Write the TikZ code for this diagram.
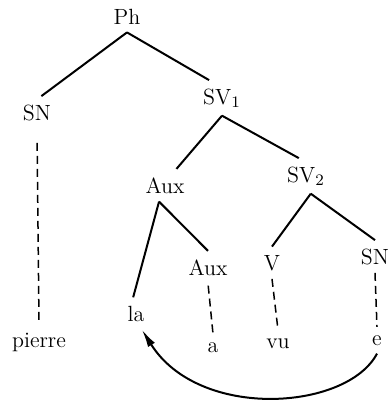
\documentclass[tikz,border=0pt]{standalone}
\usetikzlibrary{arrows.meta}
\begin{document}
\begin{tikzpicture}[x=0.5pt,y=-0.5pt,
  every node/.style={font=\fontsize{11}{13}\selectfont,inner sep=4pt,anchor=base},
  branch/.style={line width=1pt},
  trace/.style={line width=0.75pt,dash pattern=on 4pt off 2.5pt}]
 \useasboundingbox (0,0) rectangle (389,402);
 \foreach \n/\x/\y/\t in
  {
    ph/127/24/Ph, sn/37/120/SN, sv1/222/104/SV$_1$,
    aux/165/193/Aux, sv2/306/182/SV$_2$, la/136/321/la,
    aux2/208/275/Aux, v/272/270/V, sn2/375/264/SN,
    pierre/39/347/pierre, a/213/352/a, vu/278/348/vu, e/377/345/e
  }
  \node (\n) at (\x,\y) {\t};
 \foreach \a/\p/\b/\c in
  {
    ph/-90/sn/75, ph/-90/sv1/126, sv1/-90/aux/55, sv1/-90/sv2/112,
    aux/-110/la/100, aux/-110/aux2/90, sv2/-75/v/90, sv2/-75/sn2/90
  }
  \draw[branch] (\a.\p) -- (\b.\c);
 \foreach \a/\b/\s in {sn/pierre/7pt, aux2/a/1pt, v/vu/0pt, sn2/e/0pt}
  \draw[trace,shorten <=\s] (\a.south) -- (\b.north);
 \draw[branch,-{Latex[length=9pt,width=4pt]}]
  (e.south) .. controls +(-30,57) and +(57,91) .. (la.-70);
\end{tikzpicture}
\end{document}
